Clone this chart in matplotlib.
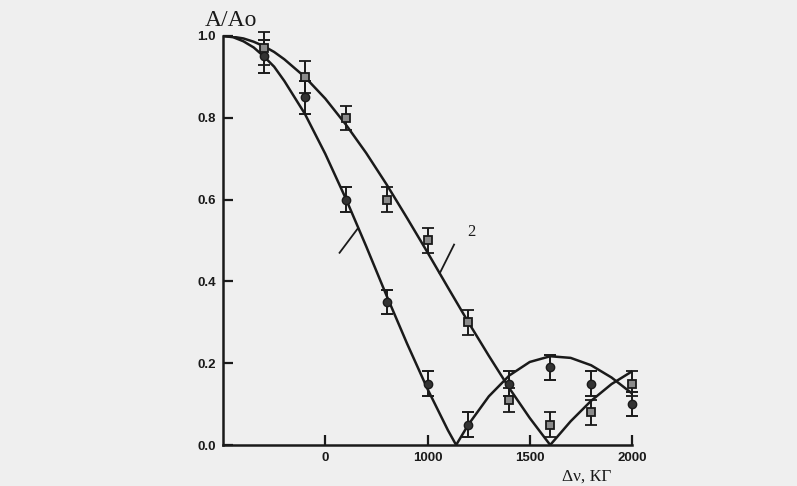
import matplotlib
matplotlib.use("Agg")
import matplotlib.pyplot as plt

# Measured points, curve 1 (circles)
x1_pts = [200, 400, 600, 800, 1000, 1200, 1400, 1600, 1800, 2000]
y1_pts = [0.95, 0.85, 0.60, 0.35, 0.15, 0.05, 0.15, 0.19, 0.15, 0.10]
e1_pts = [0.04, 0.04, 0.03, 0.03, 0.03, 0.03, 0.03, 0.03, 0.03, 0.03]

# Measured points, curve 2 (squares)
x2_pts = [200, 400, 600, 800, 1000, 1200, 1400, 1600, 1800, 2000]
y2_pts = [0.97, 0.90, 0.80, 0.60, 0.50, 0.30, 0.11, 0.05, 0.08, 0.15]
e2_pts = [0.04, 0.04, 0.03, 0.03, 0.03, 0.03, 0.03, 0.03, 0.03, 0.03]

# Curve 1 (theory line)
x1_line = [0, 50, 100, 150, 200, 250, 300, 400, 500, 600, 700, 800, 900, 1000,
           1100, 1140, 1200, 1300, 1400, 1500, 1600, 1700, 1800, 1900, 2000]
y1_line = [1.0, 0.997, 0.987, 0.972, 0.950, 0.925, 0.890, 0.810, 0.712, 0.603,
           0.486, 0.365, 0.248, 0.137, 0.036, 0.0, 0.050, 0.119, 0.170, 0.203,
           0.217, 0.213, 0.195, 0.165, 0.126]

# Curve 2 (theory line)
x2_line = [0, 50, 100, 150, 200, 250, 300, 400, 500, 600, 700, 800, 900, 1000,
           1100, 1200, 1300, 1400, 1500, 1600, 1700, 1800, 1900, 2000]
y2_line = [1.0, 0.998, 0.994, 0.986, 0.975, 0.961, 0.943, 0.900, 0.847, 0.784,
           0.714, 0.637, 0.555, 0.471, 0.385, 0.300, 0.218, 0.139, 0.066, 0.0,
           0.058, 0.108, 0.149, 0.180]

x_ticks = [500, 1000, 1500, 2000]
x_tick_labels = ["0", "1000", "1500", "2000"]
y_ticks = [0.0, 0.2, 0.4, 0.6, 0.8, 1.0]
y_tick_labels = ["0.0", "0.2", "0.4", "0.6", "0.8", "1.0"]

ink = "#1a1a1a"
bg = "#efefef"

fig = plt.figure(figsize=(7.97, 4.86), dpi=100, facecolor=bg)
ax = fig.add_axes([223 / 797, 41 / 486, 409 / 797, 409 / 486])
ax.set_facecolor("none")

ax.plot(x1_line, y1_line, color=ink, lw=1.8, zorder=2)
ax.plot(x2_line, y2_line, color=ink, lw=1.8, zorder=2)

ax.errorbar(x1_pts, y1_pts, yerr=e1_pts, fmt="o", color=ink, ms=6,
            mfc="#333333", mec=ink, ecolor=ink, elinewidth=1.4, capsize=4,
            capthick=1.4, zorder=3, clip_on=False)
ax.errorbar(x2_pts, y2_pts, yerr=e2_pts, fmt="s", color=ink, ms=6,
            mfc="#8a8a8a", mec=ink, mew=1.3, ecolor=ink, elinewidth=1.4,
            capsize=4, capthick=1.4, zorder=3, clip_on=False)

ax.set_xlim(0, 2000)
ax.set_ylim(0, 1.0)
for s in ["top", "right"]:
    ax.spines[s].set_visible(False)
for s in ["left", "bottom"]:
    ax.spines[s].set_color(ink)
    ax.spines[s].set_linewidth(1.8)

ax.set_xticks(x_ticks)
ax.set_xticklabels(x_tick_labels)
ax.set_yticks(y_ticks)
ax.set_yticklabels(y_tick_labels)
ax.tick_params(direction="in", length=7, width=1.6, color=ink,
               labelsize=9.5, labelcolor=ink, pad=5)
for lab in ax.get_xticklabels() + ax.get_yticklabels():
    lab.set_fontweight("bold")
    lab.set_family("Liberation Sans")

# leader lines for curve labels
ax.plot([570, 660], [0.47, 0.53], color=ink, lw=1.3)
ax.plot([1060, 1130], [0.42, 0.49], color=ink, lw=1.3)
ax.text(1195, 0.52, "2", fontsize=12, family="Liberation Serif", color=ink,
        va="center")

fig.text(231 / 797, 1 - 20 / 486, "A/Ao", fontsize=17, family="Liberation Serif",
         color=ink, ha="center", va="center")
fig.text(587 / 797, 1 - 477 / 486, "\u0394\u03bd, \u041a\u0413", fontsize=12.5,
         family="Liberation Serif", color=ink, ha="center", va="center")

fig.savefig("out.png", dpi=100, facecolor=bg)
